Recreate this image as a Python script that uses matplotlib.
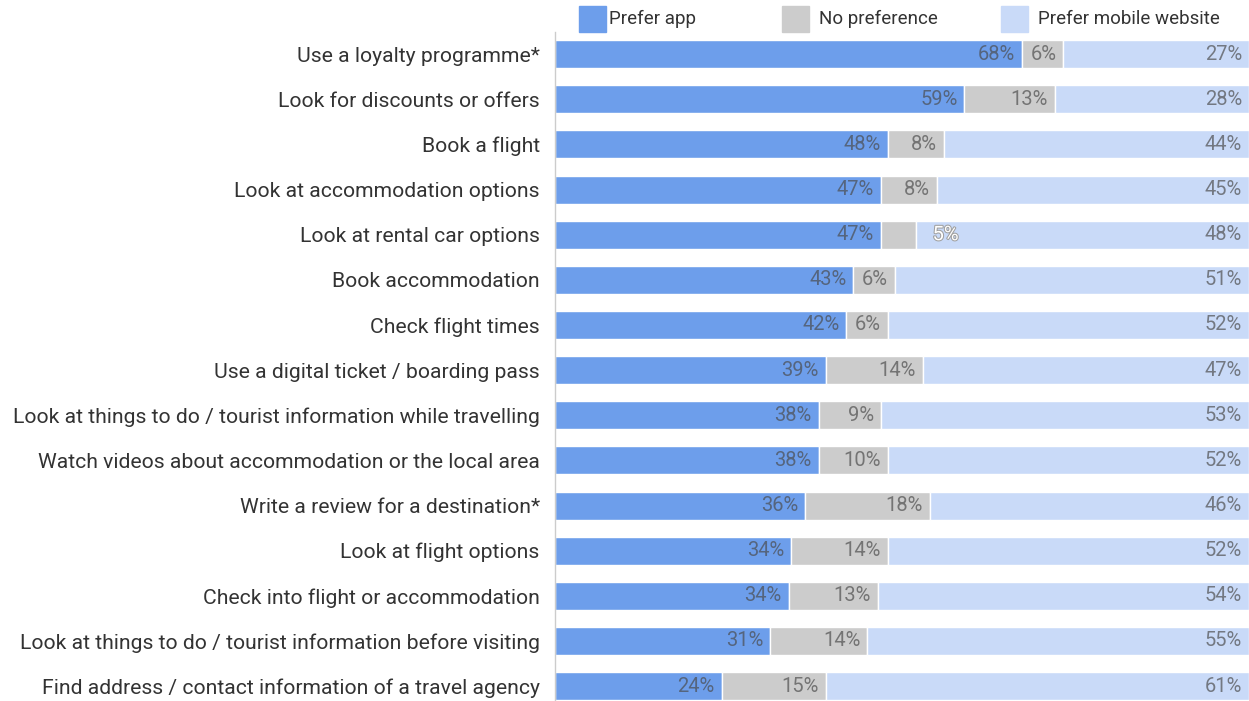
import matplotlib.pyplot as plt
from matplotlib.patches import Rectangle
import matplotlib.patheffects as pe

plt.rcParams['font.family'] = ['Roboto', 'DejaVu Sans']

# Data
activities = [
    'Use a loyalty programme*',
    'Look for discounts or offers',
    'Book a flight',
    'Look at accommodation options',
    'Look at rental car options',
    'Book accommodation',
    'Check flight times',
    'Use a digital ticket / boarding pass',
    'Look at things to do / tourist information while travelling',
    'Watch videos about accommodation or the local area',
    'Write a review for a destination*',
    'Look at flight options',
    'Check into flight or accommodation',
    'Look at things to do / tourist information before visiting',
    'Find address / contact information of a travel agency',
]
prefer_app = [68, 59, 48, 47, 47, 43, 42, 39, 38, 38, 36, 34, 34, 31, 24]
no_pref = [6, 13, 8, 8, 5, 6, 6, 14, 9, 10, 18, 14, 13, 14, 15]
prefer_web = [27, 28, 44, 45, 48, 51, 52, 47, 53, 52, 46, 52, 54, 55, 61]

series_names = ['Prefer app', 'No preference', 'Prefer mobile website']
colors = ['#6d9eeb', '#cccccc', '#c9daf8']

fig = plt.figure(figsize=(12.49, 7.01), dpi=100)
ax = fig.add_axes([555 / 1249, 0, 1 - 555 / 1249, 1 - 32 / 701])

# rows are stacked to 100% (some rounded rows add up to 101)
totals = [a + b + c for a, b, c in zip(prefer_app, no_pref, prefer_web)]

ypos = list(range(len(activities)))
left = [0.0] * len(activities)
for vals, col in zip([prefer_app, no_pref, prefer_web], colors):
    widths = [v / t * 100 for v, t in zip(vals, totals)]
    ax.barh(ypos, widths, left=left, height=0.62, color=col,
            edgecolor='white', linewidth=1)
    for y, l, w, v in zip(ypos, left, widths, vals):
        end = l + w
        if v >= 6:
            ax.annotate(f'{v}%', (end, y), xytext=(-5, 0),
                        textcoords='offset points', ha='right', va='center',
                        fontsize=14.5, color='#4a4a4a', alpha=0.68)
        else:
            t = ax.annotate(f'{v}%', (end, y), xytext=(12, 0),
                            textcoords='offset points', ha='left', va='center',
                            fontsize=14.5, color='white')
            t.set_path_effects([pe.withStroke(linewidth=1.5, foreground='#a0a0a0')])
    left = [a + b for a, b in zip(left, widths)]

ax.set_xlim(0, 100)
ax.set_ylim(14.33, -0.49)
ax.set_yticks(ypos)
ax.set_yticklabels(activities, fontsize=15.2, color='#333333')
ax.tick_params(axis='y', length=0, pad=11)
ax.set_xticks([])
for s in ['top', 'right', 'bottom']:
    ax.spines[s].set_visible(False)
ax.spines['left'].set_color('#cccccc')
ax.spines['left'].set_linewidth(1)

# Legend drawn by hand at the top
leg_sq = [579, 782, 1001]
leg_txt = [609, 819, 1038]
for xs, xt, name, col in zip(leg_sq, leg_txt, series_names, colors):
    fig.add_artist(Rectangle((xs / 1249, 1 - 32 / 701), 27 / 1249, 26 / 701,
                             transform=fig.transFigure, color=col))
    fig.text(xt / 1249, 1 - 19 / 701, name, fontsize=13.5,
             color='#333333', va='center', ha='left')

fig.savefig('out.png', dpi=100, facecolor='white')
